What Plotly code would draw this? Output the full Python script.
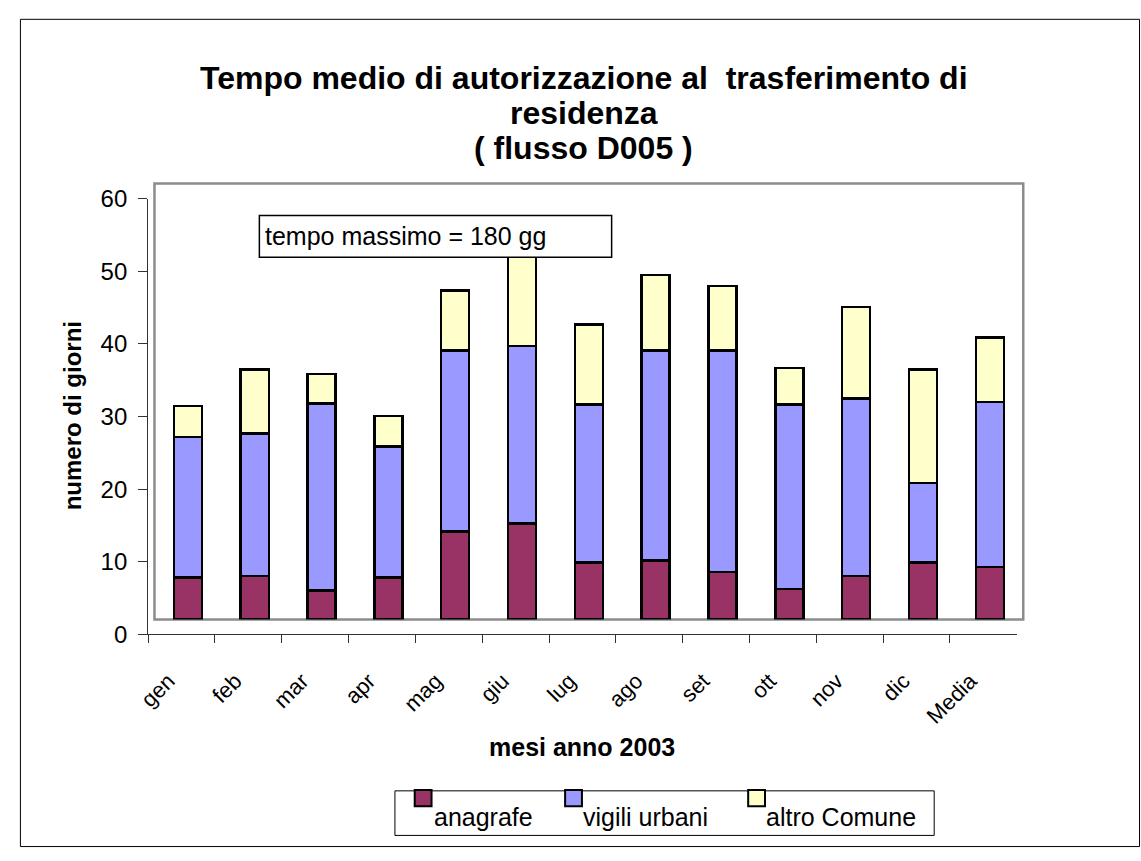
import plotly.graph_objects as go

W, H = 1141, 861
FONT = "Liberation Sans, Arial, sans-serif"

mesi = ["gen", "feb", "mar", "apr", "mag", "giu", "lug", "ago", "set", "ott", "nov", "dic", "Media"]
anagrafe = [5.8, 6.0, 4.0, 5.8, 12.1, 13.2, 7.8, 8.1, 6.5, 4.2, 6.0, 7.8, 7.2]
vigili_urbani = [19.3, 19.6, 25.7, 18.0, 24.9, 24.4, 21.8, 28.9, 30.5, 25.4, 24.4, 11.0, 22.7]
altro_comune = [4.3, 8.8, 4.1, 4.2, 8.3, 13.4, 11.0, 10.4, 8.9, 5.0, 12.6, 15.6, 8.9]

serie = [
    ("anagrafe", anagrafe, "#993366"),
    ("vigili urbani", vigili_urbani, "#9999FF"),
    ("altro Comune", altro_comune, "#FFFFCC"),
]
y_ticks = [0, 10, 20, 30, 40, 50, 60]


def fx(x):
    return x / W


def fy(y):
    return 1 - y / H


fig = go.Figure()

# stacked columns live on the back-wall axes (x2/y2)
for nome, valori, colore in serie:
    fig.add_trace(go.Bar(
        x=mesi, y=valori, name=nome, xaxis="x2", yaxis="y2",
        width=0.42, marker=dict(color=colore, line=dict(color="black", width=2.5)),
        showlegend=False,
    ))

# invisible trace to keep the front axes alive
fig.add_trace(go.Scatter(x=mesi, y=[None] * len(mesi), xaxis="x", yaxis="y",
                         mode="markers", showlegend=False, hoverinfo="skip"))

axis_col = "#333333"
fig.update_layout(
    width=W, height=H,
    margin=dict(l=0, r=0, t=0, b=0),
    paper_bgcolor="white", plot_bgcolor="rgba(0,0,0,0)",
    barmode="stack", bargap=0.58,
    font=dict(family=FONT, color="black"),
    xaxis=dict(
        domain=[fx(137.5), fx(1015.5)], anchor="y",
        type="category", categoryorder="array", categoryarray=mesi,
        range=[-0.5, 12.5], tickson="boundaries",
        showline=True, linecolor=axis_col, linewidth=1,
        ticks="outside", ticklen=8, tickcolor=axis_col,
        tickangle=-45, tickfont=dict(size=22, family=FONT),
        ticklabelstandoff=24, ticklabelshift=-13,
        showgrid=False, zeroline=False, fixedrange=True,
    ),
    yaxis=dict(
        domain=[fy(640.5), fy(190.5)], anchor="x",
        range=[0, 60], tickvals=y_ticks,
        showline=True, linecolor=axis_col, linewidth=1,
        ticks="outside", ticklen=9, tickcolor=axis_col,
        tickfont=dict(size=24, family=FONT), ticklabelstandoff=6,
        showgrid=False, zeroline=False, fixedrange=True,
    ),
    xaxis2=dict(
        domain=[fx(144), fx(1022)], anchor="y2",
        type="category", categoryorder="array", categoryarray=mesi,
        range=[-0.5, 12.5], visible=False, fixedrange=True,
    ),
    yaxis2=dict(
        domain=[fy(625), fy(175)], anchor="x2",
        range=[0, 60], visible=False, fixedrange=True,
    ),
)

shapes = [
    # back wall of the plot area
    dict(type="rect", xref="paper", yref="paper", layer="below",
         x0=fx(144), x1=fx(1022), y0=fy(625), y1=fy(175),
         line=dict(color="#8c8c8c", width=2.5)),
    # note box
    dict(type="rect", xref="paper", yref="paper", layer="above",
         x0=fx(250), x1=fx(606), y0=fy(251), y1=fy(208),
         fillcolor="white", line=dict(color="black", width=1.5)),
    # chart frame
    dict(type="rect", xref="paper", yref="paper", layer="below",
         x0=fx(8.5), x1=fx(1139.5), y0=fy(859.5), y1=fy(5.5),
         line=dict(color="black", width=1)),
    # legend box
    dict(type="rect", xref="paper", yref="paper", layer="above",
         x0=fx(387), x1=fx(932), y0=fy(848), y1=fy(802),
         fillcolor="white", line=dict(color="black", width=1)),
]

annotations = [
    dict(text="<b>Tempo medio di autorizzazione al\u00a0 trasferimento di</b>", x=fx(578), y=fy(66)),
    dict(text="<b>residenza</b>", x=fx(578), y=fy(102)),
    dict(text="<b>( flusso D005 )</b>", x=fx(578), y=fy(138)),
]
for a in annotations:
    a.update(xref="paper", yref="paper", showarrow=False, xanchor="center", yanchor="middle",
             font=dict(size=32, family=FONT))

annotations += [
    dict(text="<b>numero di giorni</b>", x=fx(62), y=fy(415), textangle=-90,
         xref="paper", yref="paper", showarrow=False, xanchor="center", yanchor="middle",
         font=dict(size=24, family=FONT)),
    dict(text="<b>mesi anno 2003</b>", x=fx(576), y=fy(757),
         xref="paper", yref="paper", showarrow=False, xanchor="center", yanchor="middle",
         font=dict(size=25, family=FONT)),
    dict(text="tempo massimo = 180 gg", x=fx(254), y=fy(229),
         xref="paper", yref="paper", showarrow=False, xanchor="left", yanchor="middle",
         font=dict(size=25, family=FONT)),
]

# legend entries: swatch raised to the top edge, label beside it
legenda_x = [(407, 424), (559, 575), (744, 760)]
for (sx, tx), (nome, _, colore) in zip(legenda_x, serie):
    shapes.append(dict(type="rect", xref="paper", yref="paper", layer="above",
                       x0=fx(sx), x1=fx(sx + 17), y0=fy(818), y1=fy(801),
                       fillcolor=colore, line=dict(color="black", width=2)))
    annotations.append(dict(text=nome, x=fx(tx), y=fy(829), xref="paper", yref="paper",
                            showarrow=False, xanchor="left", yanchor="middle",
                            font=dict(size=25, family=FONT)))

fig.update_layout(shapes=shapes, annotations=annotations)
fig.write_html("out.html")
